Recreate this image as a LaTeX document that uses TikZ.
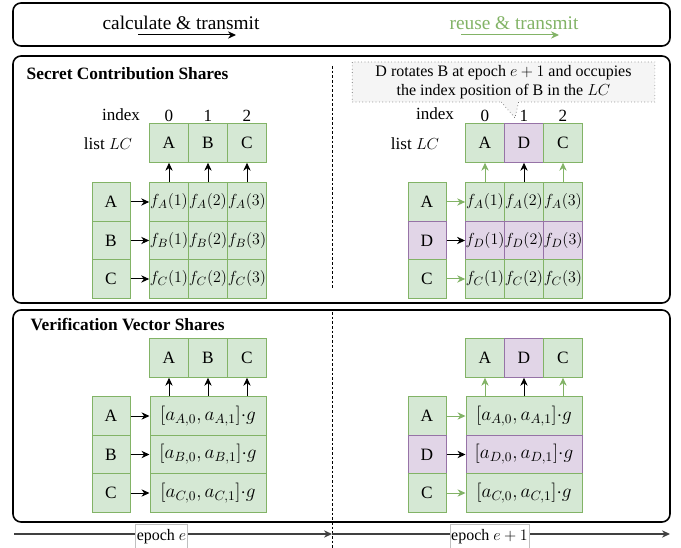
\documentclass[tikz,border=0pt]{standalone}
\usepackage{fontspec}
\setmainfont{Liberation Serif}
\usepackage{amsmath}
\usetikzlibrary{arrows.meta,calc,positioning,shapes.callouts}
\definecolor{gfill}{HTML}{D5E8D4}
\definecolor{gline}{HTML}{82B366}
\definecolor{pfill}{HTML}{E1D5E7}
\definecolor{pline}{HTML}{9673A6}
\definecolor{nfill}{HTML}{F5F5F5}
\definecolor{nline}{HTML}{666666}
\tikzset{
  panel/.style = {draw, line width=1.2pt, rounded corners=6pt},
  sep/.style   = {line width=0.75pt, dash pattern=on 2pt off 1.5pt},
  gcell/.style = {draw=gline, fill=gfill, line width=0.75pt, inner sep=0pt,
                  minimum width=29pt, minimum height=28.9pt,
                  font=\fontsize{13}{15}\selectfont},
  pcell/.style = {gcell, draw=pline, fill=pfill},
  ncell/.style = {minimum width=28.5pt},
  fcell/.style = {font=\fontsize{12.8}{15}\selectfont},
  wcell/.style = {minimum width=87pt, font=\fontsize{14.5}{16}\selectfont},
  title/.style = {anchor=west, font=\fontsize{13}{15}\selectfont\bfseries},
  legend/.style = {font=\fontsize{14.5}{17}\selectfont},
  lbl/.style   = {font=\fontsize{12.8}{15}\selectfont},
  arr/.style   = {-{Stealth[length=6pt,width=5.5pt]}, line width=0.75pt},
  garr/.style  = {arr, draw=gline},
  axisarr/.style = {-{Stealth[length=6pt,width=5.5pt]}, line width=0.9pt, black!75},
  epoch/.style = {draw=black!25, fill=white, line width=0.5pt, inner sep=1pt,
                  minimum height=18.5pt},
  note/.style  = {rectangle callout, draw=nline, fill=nfill, line width=0.5pt,
                  dotted, align=center, inner sep=1pt, minimum width=227pt,
                  minimum height=30pt, callout pointer width=13pt},
}
\begin{document}
\begin{tikzpicture}[x=0.75pt,y=-0.75pt,font=\fontsize{12}{14}\selectfont]
  \useasboundingbox (0,0) rectangle (681,548);
  \draw[panel] (13,3) rectangle (670,46);
  \draw[panel] (13,56) rectangle (670,303);
  \draw[panel] (13,310) rectangle (670,522);
  \draw[sep] (332,66) -- (332,290);
  \draw[sep] (332,312) -- (332,548);

  % legend
  \node[legend] (calc) at (181,23) {calculate \& transmit};
  \coordinate (calcA) at (138,35);
  \coordinate (calcB) at (236,35);
  \draw[arr] (calcA) -- (calcB);
  \node[legend,text=gline] (reuse) at (514,23) {reuse \& transmit};
  \coordinate (reuseA) at (461,35);
  \coordinate (reuseB) at (559,35);
  \draw[garr] (reuseA) -- (reuseB);

  \node[title] (scs) at (22,74) {Secret Contribution Shares};
  \node[title] (vvs) at (26,325) {Verification Vector Shares};

  % secret shares, epoch e
  \node[lbl] (idxL) at (121,115) {index};
  \node[lbl] (lstL) at (108,144) {list $LC$};
  \foreach \x/\s [count=\i from 0] in {169/A,208/B,247/C}{
    \node[lbl] (iL\i) at (\x,116) {\i};
    \node[gcell] (lcL\i) at (\x,143) {\s};
  }
  \foreach \y/\r in {202/A,240.5/B,279/C}{
    \node[gcell,ncell] (ndL\r) at (111,\y) {\r};
    \foreach \x [count=\j] in {169,208,247}
      \node[gcell,fcell] (fL\r\j) at (\x,\y) {$f_{\r}(\j)$};
    \draw[arr] (ndL\r) -- (fL\r1);
  }
  \foreach \j [count=\i from 0] in {1,2,3}
    \draw[arr] (fLA\j) -- (lcL\i);

  % secret shares, epoch e+1
  \node[lbl] (idxR) at (435,114) {index};
  \node[lbl] (lstR) at (415,144) {list $LC$};
  \foreach \x [count=\i from 0] in {485,524,563}
    \node[lbl] (iR\i) at (\x,116) {\i};
  \node[gcell] (lcR0) at (485,143) {A};
  \node[pcell] (lcR1) at (524,143) {D};
  \node[gcell] (lcR2) at (563,143) {C};
  \foreach \y/\r/\st in {202/A/gcell,240.5/D/pcell,279/C/gcell}{
    \node[\st,ncell] (ndR\r) at (427,\y) {\r};
    \foreach \x [count=\j] in {485,524,563}
      \node[\st,fcell] (fR\r\j) at (\x,\y) {$f_{\r}(\j)$};
  }
  \draw[garr] (ndRA) -- (fRA1);
  \draw[arr] (ndRD) -- (fRD1);
  \draw[garr] (ndRC) -- (fRC1);
  \draw[garr] (fRA1) -- (lcR0);
  \draw[arr] (fRA2) -- (lcR1);
  \draw[garr] (fRA3) -- (lcR2);

  \coordinate (rotTip) at (515,118);
  \node[note, callout absolute pointer={(rotTip)}] (rot) at (503.5,82)
    {D rotates B at epoch $e+1$ and occupies\\the index position of B in the $LC$};

  % verification vectors, epoch e
  \node[gcell] (vlcL0) at (169,358) {A};
  \node[gcell] (vlcL1) at (208,358) {B};
  \node[gcell] (vlcL2) at (247,358) {C};
  \foreach \y/\r in {416/A,454.5/B,493/C}{
    \node[gcell,ncell] (vndL\r) at (111,\y) {\r};
    \node[gcell,wcell] (vL\r) at (208,\y) {$[a_{\r,0},a_{\r,1}]{\cdot}g$};
    \draw[arr] (vndL\r) -- (vL\r);
  }
  \foreach \i in {0,1,2}
    \draw[arr] (vlcL\i |- vLA.north) -- (vlcL\i);

  % verification vectors, epoch e+1
  \node[gcell] (vlcR0) at (485,358) {A};
  \node[pcell] (vlcR1) at (524,358) {D};
  \node[gcell] (vlcR2) at (563,358) {C};
  \foreach \y/\r/\st in {416/A/gcell,454.5/D/pcell,493/C/gcell}{
    \node[\st,ncell] (vndR\r) at (427,\y) {\r};
    \node[\st,wcell] (vR\r) at (524,\y) {$[a_{\r,0},a_{\r,1}]{\cdot}g$};
  }
  \draw[garr] (vndRA) -- (vRA);
  \draw[arr] (vndRD) -- (vRD);
  \draw[garr] (vndRC) -- (vRC);
  \draw[garr] (vlcR0 |- vRA.north) -- (vlcR0);
  \draw[arr] (vlcR1 |- vRA.north) -- (vlcR1);
  \draw[garr] (vlcR2 |- vRA.north) -- (vlcR2);

  % epochs
  \coordinate (eS) at (14,534);
  \coordinate (eM) at (332,534);
  \coordinate (eE) at (670,534);
  \draw[axisarr] (eS) -- (eM);
  \draw[axisarr] (eM) -- (eE);
  \node[epoch] (epL) at (161.5,537) {epoch $e$};
  \node[epoch] (epR) at (489.5,537) {epoch $e+1$};
\end{tikzpicture}
\end{document}
